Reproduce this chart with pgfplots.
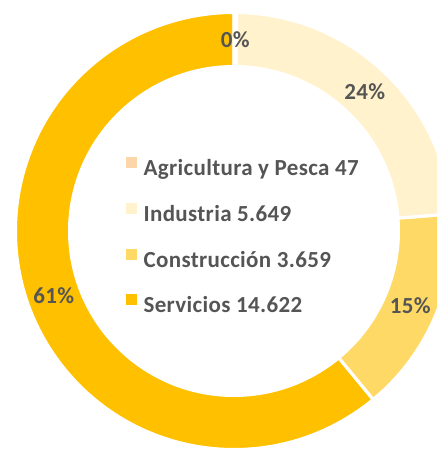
\documentclass[border=0pt]{standalone}
\usepackage{pgfplots}
\pgfplotsset{compat=1.18}
\usepackage{fontspec}
\setmainfont{Carlito}[LetterSpace=1.5]

\definecolor{agri}{HTML}{FCD6A9}
\definecolor{indu}{HTML}{FFF2CC}
\definecolor{cons}{HTML}{FFD966}
\definecolor{serv}{HTML}{FFC000}
\definecolor{txt}{HTML}{555555}

% values (Agricultura y Pesca, Industria, Construccion, Servicios)
\def\vA{47}\def\vB{5649}\def\vC{3659}\def\vD{14622}
% work in thousands, pgfmath overflows past 16383
\pgfmathsetmacro\tot{\vA/1000+\vB/1000+\vC/1000+\vD/1000}
\pgfmathsetmacro\fA{\vA/1000/\tot}
\pgfmathsetmacro\fB{\vB/1000/\tot}
\pgfmathsetmacro\fC{\vC/1000/\tot}
\pgfmathsetmacro\fD{\vD/1000/\tot}
% angles, clockwise from the top
\pgfmathsetmacro\aA{90}
\pgfmathsetmacro\aB{\aA-360*\fA}
\pgfmathsetmacro\aC{\aB-360*\fB}
\pgfmathsetmacro\aD{\aC-360*\fC}
\pgfmathsetmacro\aE{\aD-360*\fD}
\pgfmathsetmacro\mA{(\aA+\aB)/2}
\pgfmathsetmacro\mB{(\aB+\aC)/2}
\pgfmathsetmacro\mC{(\aC+\aD)/2}
\pgfmathsetmacro\mD{(\aD+\aE)/2}
\pgfmathtruncatemacro\pA{round(100*\fA)}
\pgfmathtruncatemacro\pB{round(100*\fB)}
\pgfmathtruncatemacro\pC{round(100*\fC)}
\pgfmathtruncatemacro\pD{round(100*\fD)}

\def\Ro{218.5pt}\def\Ri{164.5pt}\def\Rm{191.5pt}
\newcommand\ring[2]{(#1:\Ro) arc[start angle=#1, end angle=#2, radius=\Ro]
  -- (#2:\Ri) arc[start angle=#2, end angle=#1, radius=\Ri] -- cycle}

\begin{document}
\begin{tikzpicture}
\begin{axis}[
  x=1pt, y=1pt, xmin=0, xmax=437, ymin=0, ymax=449,
  hide axis, clip=true,
  legend style={at={(axis cs:126,292)}, anchor=north west, draw=none, fill=none,
    inner sep=0pt, row sep=22pt, column sep=7pt,
    font=\fontsize{23}{26}\selectfont\bfseries, text=txt,
    nodes={inner sep=0pt, text height=16pt, text depth=5pt}},
  legend cell align=left,
  legend image code/.code={\fill[#1] (0pt,3pt) rectangle (10pt,13pt);},
]
\begin{scope}[shift={(axis cs:234,218)}]
  \fill[agri] \ring{\aA}{\aB};
  \fill[indu] \ring{\aB}{\aC};
  \fill[cons] \ring{\aC}{\aD};
  \fill[serv] \ring{\aD}{\aE};
  \draw[white, line width=3pt] \ring{\aA}{\aB};
  \draw[white, line width=3pt] \ring{\aB}{\aC};
  \draw[white, line width=3pt] \ring{\aC}{\aD};
  \draw[white, line width=3pt] \ring{\aD}{\aE};
  \begin{scope}[every node/.style={font=\fontsize{23}{26}\selectfont\bfseries, text=txt}]
    \node at (\mA:\Rm) {\pA\%};
    \node at (\mB:\Rm) {\pB\%};
    \node at (\mC:\Rm) {\pC\%};
    \node at (\mD:\Rm) {\pD\%};
  \end{scope}
\end{scope}
\addlegendimage{agri}
\addlegendentry{Agricultura y Pesca 47}
\addlegendimage{indu}
\addlegendentry{Industria 5.649}
\addlegendimage{cons}
\addlegendentry{Construcción 3.659}
\addlegendimage{serv}
\addlegendentry{Servicios 14.622}
\end{axis}
\pgfresetboundingbox
\useasboundingbox (current axis.south west) rectangle (current axis.north east);
\end{tikzpicture}
\end{document}
